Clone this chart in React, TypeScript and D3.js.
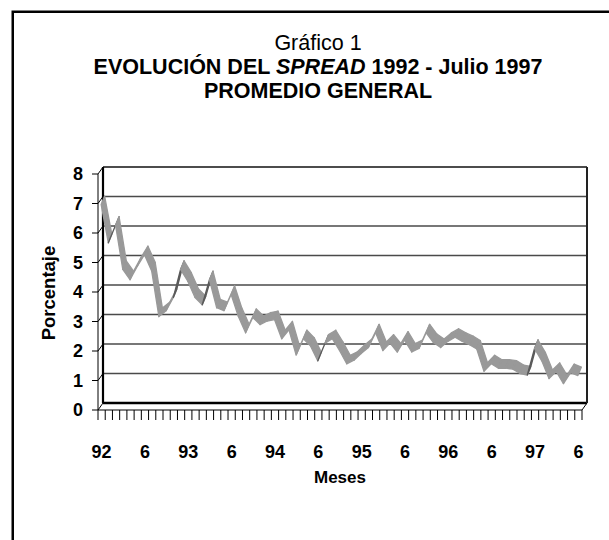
import React, { useRef, useEffect } from 'react'
import * as d3 from 'd3'

// months Jan 1992 .. Jul 1997
const YEARS = [1992, 1993, 1994, 1995, 1996, 1997]
const LAST_MONTH_1997 = 7

// spread promedio general (%)
const SPREAD = [
  7.0, 5.7, 6.3, 4.8, 4.45, 4.9, 5.3, 4.75, 3.2, 3.4, 3.85, 4.8,
  4.4, 3.85, 3.6, 4.45, 3.5, 3.4, 3.95, 3.2, 2.65, 3.17, 2.93, 3.05,
  3.1, 2.45, 2.75, 1.9, 2.45, 2.2, 1.7, 2.3, 2.45, 2.05, 1.6, 1.72,
  1.95, 2.15, 2.65, 2.05, 2.3, 2.0, 2.4, 2.0, 2.12, 2.65, 2.32, 2.15,
  2.36, 2.5, 2.36, 2.25, 2.1, 1.35, 1.6, 1.45, 1.45, 1.42, 1.27, 1.22,
  2.12, 1.7, 1.1, 1.34, 0.93, 1.3, 1.2,
]

const Y_TICKS = [0, 1, 2, 3, 4, 5, 6, 7, 8]
const X_TICK_LABELS = ['92', '6', '93', '6', '94', '6', '95', '6', '96', '6', '97', '6']

const FONT = "'Liberation Sans', Arial, Helvetica, sans-serif"

const categories: string[] = []
YEARS.forEach((yr) => {
  const n = yr === 1997 ? LAST_MONTH_1997 : 12
  for (let m = 1; m <= n; m++) categories.push(`${yr}-${m}`)
})

export default function App() {
  const svgRef = useRef<SVGSVGElement>(null)

  useEffect(() => {
    if (!svgRef.current) return
    const svg = d3.select(svgRef.current)
    svg.selectAll('*').remove()

    const left = 98
    const right = 582
    const bottom = 410
    const top = 174
    const wall = { x: 5, y: -7 } // depth offset of the back wall
    const rib = { x: 3.5, y: -8.5 } // depth of the line ribbon

    const x = d3.scaleBand<string>().domain(categories).range([left, right]).padding(0)
    const y = d3.scaleLinear().domain([0, 8]).range([bottom, top])
    const bw = x.bandwidth()

    // outer frame
    svg.append('rect')
      .attr('x', 12.75).attr('y', 11.75)
      .attr('width', 640).attr('height', 600)
      .attr('fill', 'none').attr('stroke', '#000').attr('stroke-width', 2.5)

    // title
    const title = svg.append('g').attr('font-family', FONT).attr('text-anchor', 'middle').attr('fill', '#000')
    title.append('text').attr('x', 318).attr('y', 50).attr('font-size', 21.5).text('Gráfico 1')
    const t2 = title.append('text').attr('x', 318).attr('y', 74).attr('font-size', 21.5).attr('font-weight', 'bold')
    t2.append('tspan').text('EVOLUCIÓN DEL ')
    t2.append('tspan').attr('font-style', 'italic').text('SPREAD')
    t2.append('tspan').text(' 1992 - Julio 1997')
    title.append('text').attr('x', 318).attr('y', 98).attr('font-size', 21.5).attr('font-weight', 'bold')
      .text('PROMEDIO GENERAL')

    const g = svg.append('g')

    // back wall gridlines
    Y_TICKS.forEach((t) => {
      const yy = y(t) + wall.y
      g.append('line')
        .attr('x1', left + wall.x).attr('x2', right + wall.x)
        .attr('y1', yy).attr('y2', yy)
        .attr('stroke', t === 0 ? '#000' : t === 8 ? '#111' : '#4a4a4a')
        .attr('stroke-width', t === 0 ? 2.5 : 1.3)
    })

    // back wall left and right edges
    g.append('line')
      .attr('x1', left + wall.x).attr('x2', left + wall.x)
      .attr('y1', y(0) + wall.y).attr('y2', y(8) + wall.y)
      .attr('stroke', '#000').attr('stroke-width', 2.2)
    g.append('line')
      .attr('x1', right + wall.x).attr('x2', right + wall.x)
      .attr('y1', y(0) + wall.y).attr('y2', y(8) + wall.y)
      .attr('stroke', '#222').attr('stroke-width', 2)

    // side wall diagonals + y ticks
    Y_TICKS.forEach((t) => {
      g.append('line')
        .attr('x1', left).attr('y1', y(t))
        .attr('x2', left + wall.x).attr('y2', y(t) + wall.y)
        .attr('stroke', '#000').attr('stroke-width', 1)
      g.append('line')
        .attr('x1', left - 6).attr('x2', left)
        .attr('y1', y(t)).attr('y2', y(t))
        .attr('stroke', '#000').attr('stroke-width', 1)
      g.append('text')
        .attr('x', 83).attr('y', y(t)).attr('dy', '0.36em')
        .attr('text-anchor', 'end')
        .attr('font-family', FONT).attr('font-size', 18).attr('font-weight', 'bold')
        .text(String(t))
    })

    // front axis line
    g.append('line')
      .attr('x1', left).attr('x2', left)
      .attr('y1', y(0)).attr('y2', y(8))
      .attr('stroke', '#000').attr('stroke-width', 1)

    // floor front edge and right diagonal
    g.append('line')
      .attr('x1', left).attr('x2', right)
      .attr('y1', bottom).attr('y2', bottom)
      .attr('stroke', '#000').attr('stroke-width', 1)
    g.append('line')
      .attr('x1', right).attr('y1', bottom)
      .attr('x2', right + wall.x).attr('y2', bottom + wall.y)
      .attr('stroke', '#000').attr('stroke-width', 1)

    // x ticks at category boundaries
    for (let k = 0; k <= categories.length; k++) {
      const xx = left + k * bw
      g.append('line')
        .attr('x1', xx).attr('x2', xx)
        .attr('y1', bottom).attr('y2', bottom + 10)
        .attr('stroke', '#000').attr('stroke-width', 1)
    }

    // x labels, one every 6 months
    X_TICK_LABELS.forEach((lab, k) => {
      const c = categories[k * 6]
      g.append('text')
        .attr('x', (x(c) ?? 0) + bw / 2).attr('y', 458)
        .attr('text-anchor', 'middle')
        .attr('font-family', FONT).attr('font-size', 18).attr('font-weight', 'bold')
        .text(lab)
    })

    // axis titles
    g.append('text')
      .attr('x', 340).attr('y', 483)
      .attr('text-anchor', 'middle')
      .attr('font-family', FONT).attr('font-size', 17).attr('font-weight', 'bold')
      .text('Meses')
    g.append('text')
      .attr('transform', 'translate(55,293) rotate(-90)')
      .attr('text-anchor', 'middle')
      .attr('font-family', FONT).attr('font-size', 18.5).attr('font-weight', 'bold')
      .text('Porcentaje')

    // 3D ribbon (front edge nudged so the ribbon middle sits on the value)
    const pts = SPREAD.map((v, i) => [(x(categories[i]) ?? 0) + bw / 2 - 0.5, y(v) + 1])
    for (let i = 0; i < pts.length - 1; i++) {
      const [px, py] = pts[i]
      const [qx, qy] = pts[i + 1]
      const cross = (qx - px) * rib.y - (qy - py) * rib.x
      const color = cross > 0 ? '#5a5a5a' : '#999999'
      const quad = [
        [px, py], [qx, qy], [qx + rib.x, qy + rib.y], [px + rib.x, py + rib.y],
      ]
      g.append('path')
        .attr('d', 'M' + quad.map((p) => p.join(',')).join('L') + 'Z')
        .attr('fill', color)
        .attr('stroke', color)
        .attr('stroke-width', 1.3)
        .attr('stroke-linejoin', 'round')
    }
  }, [])

  return (
    <svg
      ref={svgRef}
      width={609}
      height={540}
      style={{ position: 'absolute', left: 0, top: 0, background: '#fff', display: 'block' }}
    />
  )
}
